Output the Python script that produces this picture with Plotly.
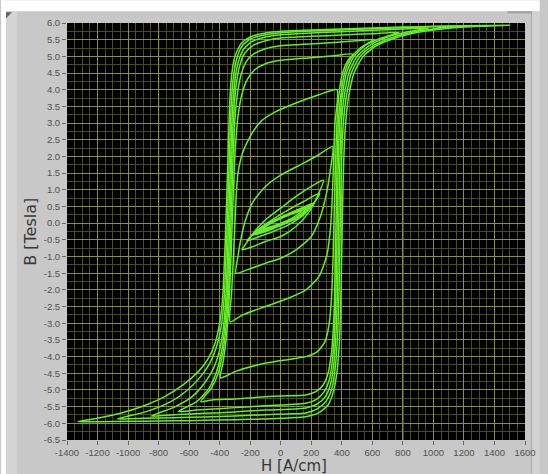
import plotly.graph_objects as go

# Hysteresis loops B(H) measured at increasing field amplitudes.
# Each loop: descending branch (from +tip to -tip) followed by ascending branch.
L1_H = [1500, 1200, 1000, 800, 600, 400, 200, 0, -100, -200, -260, -300, -320, -332, -342, -352, -364, -380, -400, -430, -480, -540, -640, -760, -900, -1050, -1200, -1330,
        -1200, -1000, -800, -600, -400, -200, 0, 165, 250, 310, 345, 370, 385, 395, 403, 412, 425, 445, 480, 540, 620, 750, 900, 1100, 1300, 1500]
L1_B = [5.93, 5.92, 5.90, 5.88, 5.85, 5.82, 5.79, 5.75, 5.70, 5.58, 5.38, 5.0, 4.5, 3.8, 2.5, 1.0, -0.6, -2.2, -3.0, -3.6, -4.1, -4.45, -4.85, -5.2, -5.48, -5.7, -5.85, -5.95,
        -5.95, -5.94, -5.93, -5.92, -5.90, -5.88, -5.85, -5.80, -5.68, -5.45, -5.05, -4.4, -3.5, -2.0, 0.0, 1.8, 3.0, 3.8, 4.5, 5.0, 5.3, 5.55, 5.72, 5.84, 5.90, 5.93]

L2_H = [1195, 1000, 800, 600, 400, 200, 0, -100, -200, -255, -290, -312, -325, -335, -345, -356, -370, -390, -420, -465, -525, -610, -720, -880, -1070,
        -900, -700, -500, -300, -100, 50, 165, 245, 300, 335, 358, 372, 382, 390, 398, 410, 430, 462, 520, 600, 720, 880, 1050, 1195]
L2_B = [5.91, 5.89, 5.86, 5.83, 5.79, 5.76, 5.71, 5.65, 5.52, 5.3, 4.9, 4.3, 3.5, 2.2, 0.8, -0.7, -2.2, -3.1, -3.7, -4.2, -4.6, -5.0, -5.35, -5.65, -5.87,
        -5.85, -5.83, -5.81, -5.78, -5.74, -5.72, -5.69, -5.55, -5.32, -4.95, -4.3, -3.4, -2.0, 0.0, 1.8, 3.0, 3.8, 4.5, 5.0, 5.3, 5.55, 5.74, 5.85, 5.91]

L3_H = [970, 800, 600, 400, 200, 0, -100, -190, -245, -280, -302, -316, -326, -336, -346, -358, -375, -400, -440, -500, -580, -700, -846,
        -700, -500, -300, -100, 50, 165, 240, 292, 325, 348, 362, 372, 380, 387, 397, 416, 446, 500, 580, 700, 850, 970]
L3_B = [5.85, 5.82, 5.78, 5.74, 5.70, 5.65, 5.58, 5.44, 5.2, 4.8, 4.2, 3.4, 2.2, 0.8, -0.6, -2.1, -3.1, -3.8, -4.35, -4.8, -5.2, -5.52, -5.78,
        -5.74, -5.70, -5.66, -5.60, -5.58, -5.54, -5.42, -5.2, -4.85, -4.2, -3.3, -2.0, 0.0, 1.8, 3.0, 3.8, 4.5, 5.0, 5.32, 5.58, 5.75, 5.85]

L4_H = [776, 600, 400, 200, 0, -100, -180, -235, -270, -293, -308, -319, -328, -338, -349, -364, -386, -420, -470, -550, -673,
        -550, -400, -200, 0, 165, 235, 285, 318, 340, 353, 362, 370, 377, 386, 403, 430, 480, 560, 660, 776]
L4_B = [5.72, 5.68, 5.64, 5.60, 5.55, 5.47, 5.33, 5.1, 4.7, 4.1, 3.3, 2.2, 0.8, -0.6, -2.0, -3.0, -3.8, -4.45, -4.95, -5.35, -5.65,
        -5.60, -5.56, -5.50, -5.45, -5.40, -5.28, -5.05, -4.7, -4.05, -3.2, -2.0, 0.0, 1.8, 3.0, 3.8, 4.5, 5.0, 5.35, 5.55, 5.72]

L5_H = [609, 450, 300, 150, 0, -100, -175, -225, -260, -283, -300, -312, -321, -330, -341, -356, -378, -410, -455, -524,
        -450, -300, -150, 0, 165, 230, 278, 310, 332, 345, 354, 362, 369, 377, 393, 418, 460, 520, 609]
L5_B = [5.50, 5.45, 5.40, 5.36, 5.32, 5.23, 5.08, 4.85, 4.45, 3.9, 3.1, 2.0, 0.7, -0.6, -2.0, -3.0, -3.85, -4.5, -4.95, -5.35,
        -5.30, -5.27, -5.22, -5.18, -5.15, -5.05, -4.85, -4.5, -3.9, -3.1, -2.0, 0.0, 1.8, 3.0, 3.8, 4.5, 4.95, 5.25, 5.50]

L6_H = [476, 350, 200, 0, -100, -170, -220, -255, -280, -298, -310, -320, -330, -342, -358, -377, -395,
        -300, -150, 0, 165, 240, 290, 318, 333, 343, 350, 358, 366, 380, 405, 440, 476]
L6_B = [5.07, 5.02, 4.96, 4.88, 4.78, 4.6, 4.3, 3.85, 3.2, 2.2, 1.0, -0.3, -1.5, -2.6, -3.5, -4.15, -4.64,
        -4.45, -4.25, -4.12, -4.0, -3.85, -3.55, -3.0, -2.2, -1.0, 0.3, 1.6, 2.8, 3.8, 4.5, 4.88, 5.07]

L7_H = [368, 250, 100, -50, -130, -200, -250, -280, -292, -302, -312, -322, -331,
        -250, -100, 50, 165, 250, 300, 325, 338, 347, 355, 368]
L7_B = [4.0, 3.85, 3.6, 3.3, 3.05, 2.6, 2.1, 1.5, 0.8, -0.2, -1.2, -2.1, -2.96,
        -2.75, -2.5, -2.25, -2.0, -1.6, -1.0, -0.2, 0.8, 2.0, 3.0, 4.0]

L8_H = [340, 250, 150, 0, -100, -180, -230, -262, -280, -293,
        -220, -100, 0, 100, 200, 260, 300, 325, 340]
L8_B = [2.3, 2.05, 1.8, 1.44, 1.1, 0.65, 0.1, -0.5, -1.0, -1.5,
        -1.4, -1.2, -1.05, -0.8, -0.4, 0.2, 0.9, 1.6, 2.3]

L9_H = [280, 200, 100, 0, -100, -180, -225, -254,
        -180, -100, 0, 100, 180, 240, 280]
L9_B = [1.29, 1.1, 0.8, 0.45, 0.1, -0.3, -0.6, -0.8,
        -0.7, -0.55, -0.4, -0.1, 0.3, 0.8, 1.29]

L10_H = [255, 150, 50, -50, -150, -222,
         -150, -50, 50, 150, 220, 255]
L10_B = [0.9, 0.65, 0.4, 0.12, -0.2, -0.53,
         -0.42, -0.25, -0.05, 0.25, 0.62, 0.9]

L11_H = [216, 120, 0, -100, -189,
         -100, 0, 100, 170, 216]
L11_B = [0.6, 0.42, 0.18, -0.05, -0.36,
         -0.25, -0.07, 0.15, 0.38, 0.6]

L12_H = [205, 110, 0, -95, -180,
         -95, 0, 105, 165, 205]
L12_B = [0.56, 0.39, 0.17, -0.04, -0.33,
         -0.23, -0.05, 0.15, 0.36, 0.56]

L13_H = [195, 100, 0, -90, -170,
         -90, 0, 100, 160, 195]
L13_B = [0.52, 0.36, 0.16, -0.03, -0.3,
         -0.2, -0.04, 0.14, 0.34, 0.52]

L14_H = [180, 90, 0, -85, -160,
         -85, 0, 90, 150, 180]
L14_B = [0.48, 0.33, 0.15, -0.02, -0.27,
         -0.17, -0.03, 0.13, 0.32, 0.48]

L15_H = [165, 80, 0, -80, -150,
         -80, 0, 80, 135, 165]
L15_B = [0.44, 0.3, 0.15, -0.02, -0.25,
         -0.15, -0.02, 0.13, 0.29, 0.44]

L16_H = [140, 60, 0, -60, -120,
         -60, 0, 60, 110, 140]
L16_B = [0.38, 0.25, 0.14, 0.0, -0.18,
         -0.1, 0.0, 0.12, 0.26, 0.38]

loops = [(L1_H, L1_B), (L2_H, L2_B), (L3_H, L3_B), (L4_H, L4_B), (L5_H, L5_B),
         (L6_H, L6_B), (L7_H, L7_B), (L8_H, L8_B), (L9_H, L9_B), (L10_H, L10_B),
         (L11_H, L11_B), (L12_H, L12_B), (L13_H, L13_B), (L14_H, L14_B),
         (L15_H, L15_B), (L16_H, L16_B)]

x_ticks = list(range(-1400, 1601, 200))
y_ticks = [v / 10 for v in range(-65, 61, 5)]
pale_grid_H = [-800, 800]

fig = go.Figure()
for h, b in loops:
    fig.add_trace(go.Scatter(
        x=h, y=b, mode="lines",
        line=dict(color="#66ee26", width=1.5, shape="spline", smoothing=0.6),
        hoverinfo="skip", showlegend=False))

tick_font = dict(family="Liberation Sans", size=9.5, color="#505050")
title_font = dict(family="DejaVu Sans", size=15, color="#383838")

fig.update_xaxes(
    range=[-1400, 1600], tickvals=x_ticks, ticktext=[str(v) for v in x_ticks],
    tickfont=tick_font, ticks="outside", ticklen=4, tickcolor="#666666",
    showgrid=True, gridcolor="#8e8e40", gridwidth=1, zeroline=False,
    minor=dict(dtick=50, tick0=0, showgrid=True, gridcolor="#4c4c24", gridwidth=1),
    showline=False)
fig.update_yaxes(
    range=[-6.5, 6.0], tickvals=y_ticks, ticktext=[f"{v:.1f}" for v in y_ticks],
    tickfont=tick_font, ticks="outside", ticklen=4, tickcolor="#666666",
    showgrid=True, gridcolor="#8e8e40", gridwidth=1, zeroline=False,
    minor=dict(dtick=0.25, tick0=0, showgrid=True, gridcolor="#4c4c24", gridwidth=1),
    showline=False)

# Lighter grid accents
for h in pale_grid_H:
    fig.add_shape(type="line", xref="x", yref="paper", layer="below",
                  x0=h, x1=h, y0=0, y1=1, line=dict(color="#b4b496", width=1))

# Axis titles placed as annotations
pw, ph = 466.0, 417.3
fig.add_annotation(text="H [A/cm]", xref="paper", yref="paper",
                   x=(298 - 67) / pw, y=-(466 - 440) / ph, xanchor="center", yanchor="middle",
                   showarrow=False, font=title_font)
fig.add_annotation(text="B [Tesla]", xref="paper", yref="paper",
                   x=(30 - 67) / pw, y=(440 - 232) / ph, xanchor="center", yanchor="middle",
                   textangle=-90, showarrow=False, font=dict(family="DejaVu Sans", size=16, color="#383838"))

# Panel decoration: white strip on top and at the left, light edges
def px_rect(x0, x1, y0, y1, color):
    fig.add_shape(type="rect", xref="paper", yref="paper", layer="below",
                  x0=(x0 - 67) / pw, x1=(x1 - 67) / pw,
                  y0=(440 - y1) / ph, y1=(440 - y0) / ph,
                  fillcolor=color, line=dict(width=0))

px_rect(0, 548, 0, 11, "white")
px_rect(0, 5, 0, 474, "white")
px_rect(5, 16, 11, 474, "#d4d4d4")
px_rect(540, 548, 11, 474, "#d2d2d2")
px_rect(539, 540, 11, 474, "#a8a8a8")
px_rect(515, 540, 11, 13, "#a0a0a0")
fig.add_shape(type="path", xref="paper", yref="paper", layer="below",
              path=f"M {(5 - 67) / pw},{(440 - 12) / ph} L {(11 - 67) / pw},{(440 - 12) / ph} "
                   f"L {(5 - 67) / pw},{(440 - 18) / ph} Z",
              fillcolor="#606060", line=dict(width=0))

fig.update_layout(
    width=548, height=474,
    margin=dict(l=67, r=15, t=23, b=34),
    paper_bgcolor="#c8c8c8", plot_bgcolor="#000000",
)

fig.write_html("out.html")
